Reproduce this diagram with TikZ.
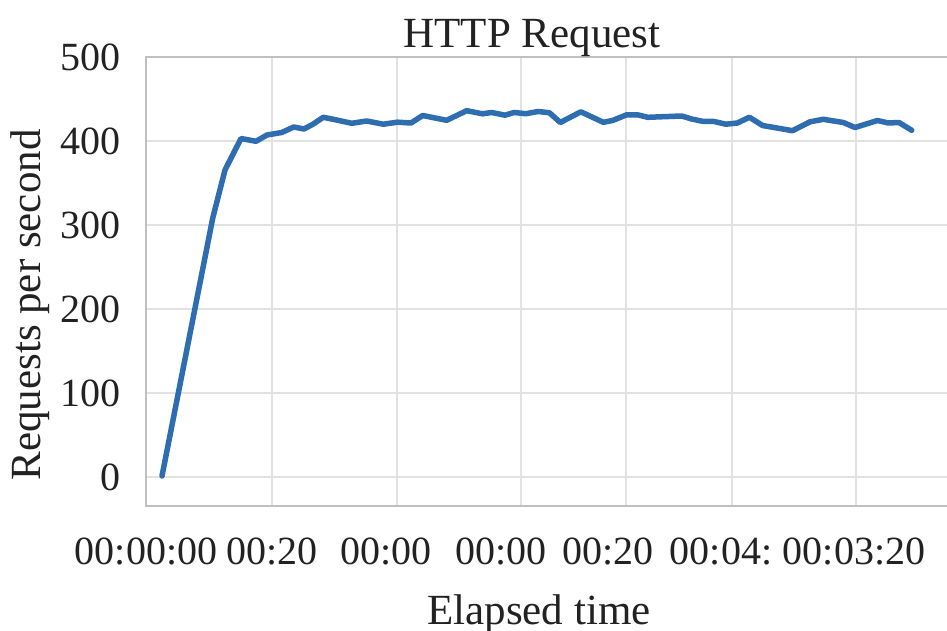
\documentclass[tikz,border=0pt]{standalone}
\usepackage{fontspec}
\setmainfont{Liberation Serif}
\definecolor{linblue}{HTML}{2E6DB0}
\definecolor{gridgray}{HTML}{E2E2E2}
\definecolor{framegray}{HTML}{C0C0C0}
\definecolor{txt}{HTML}{222222}
\begin{document}
\begin{tikzpicture}[x=1pt,y=-1pt,
  tick/.style={text=txt,font=\fontsize{40}{48}\selectfont,inner sep=0pt},
  ylab/.style={tick,anchor=east},
  xlab/.style={tick,anchor=base},
  axtitle/.style={text=txt,font=\fontsize{43}{50}\selectfont,inner sep=0pt},
  gridln/.style={draw=gridgray,line width=2pt},
  frameln/.style={draw=framegray,line width=2.5pt},
  series/.style={draw=linblue,line width=5.5pt,line join=round,line cap=round}]
\useasboundingbox[fill=white] (0,0) rectangle (947,631);
% grid
\foreach \yy in {141,225,309,393,477} \draw[gridln] (146,\yy) -- (947,\yy);
\foreach \xx in {272,397,521,626,732,856} \draw[gridln] (\xx,57) -- (\xx,506);
% frame
\draw[frameln] (947,57) -- (146,57) -- (146,506) -- (947,506);
% y ticks
\node[ylab] (y500) at (121,57) {500};
\node[ylab] (y400) at (121,141) {400};
\node[ylab] (y300) at (121,225) {300};
\node[ylab] (y200) at (121,309) {200};
\node[ylab] (y100) at (121,393) {100};
\node[ylab] (y0) at (121,477) {0};
% x ticks
\node[xlab] (x1) at (146,564) {00:00:00};
\node[xlab] (x2) at (272,564) {00:20};
\node[xlab] (x3) at (386,564) {00:00};
\node[xlab] (x4) at (501,564) {00:00};
\node[xlab] (x5) at (608,564) {00:20};
\node[xlab] (x6) at (721,564) {00:04:};
\node[xlab] (x7) at (854,564) {00:03:20};
% titles
\node[axtitle,anchor=base] (title) at (532,48) {HTTP Request};
\node[axtitle,anchor=base] (xtitle) at (539,624) {Elapsed time};
\node[axtitle,anchor=base,rotate=90] (ytitle) at (40,305) {Requests per second};
% series
\draw[series] plot coordinates {(162,476) (212.7,218.3) (225,170) (241,138.5) (256,141.3) (267,135) (281.7,132.5) (293.7,127) (304,129) (313.3,124) (323.3,117.3) (336.7,120) (351.7,123.3) (366.7,121) (383.3,124.2) (397.5,122.2) (411,123) (422.7,115.5) (446.7,120.3) (466.7,110.7) (482.5,113.8) (491.7,112.5) (505,115.2) (514,112.5) (525.8,113.7) (538.3,111.5) (549.5,112.8) (560.3,122.5) (580.8,111.8) (603.3,122.3) (612.5,120.5) (626.7,114.8) (637.5,114.8) (647.8,117.3) (681.7,116) (691.7,119) (702.5,121.3) (714,121.5) (725.8,124.2) (737.5,123) (749.3,117.2) (762.5,125.5) (792.5,130.7) (810,121.8) (823.3,119.3) (843.3,122.5) (855,127.5) (877.5,120.5) (888.3,123) (899,122.5) (911.7,130.3)};
\end{tikzpicture}
\end{document}
